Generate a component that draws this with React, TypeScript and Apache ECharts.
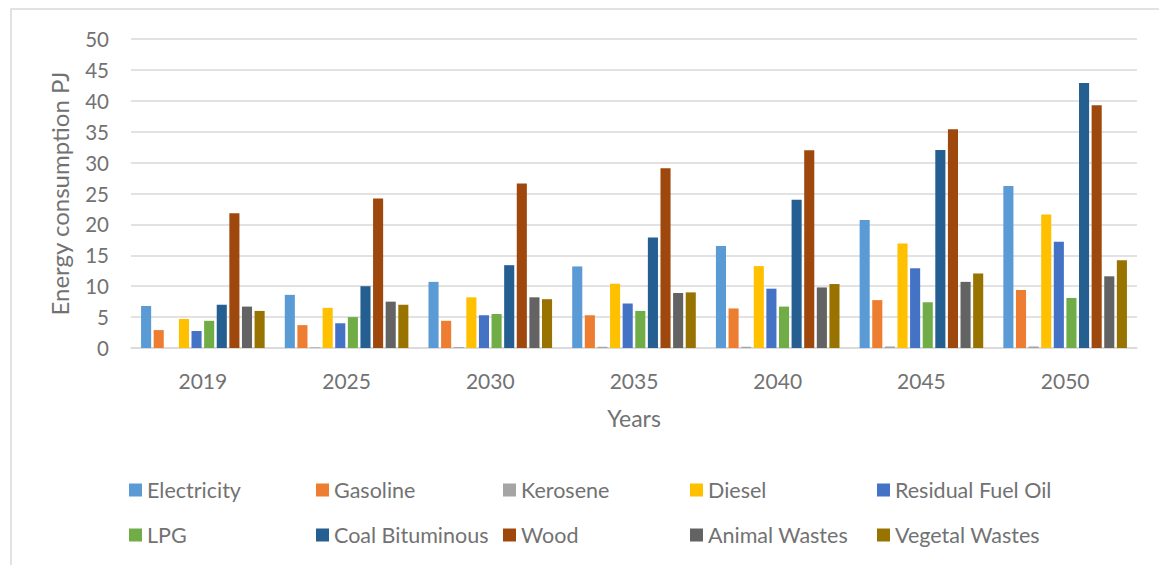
import React, { useEffect, useRef } from "react";
import * as echarts from "echarts";

const years = ["2019", "2025", "2030", "2035", "2040", "2045", "2050"];
const seriesNames = [
  "Electricity", "Gasoline", "Kerosene", "Diesel", "Residual Fuel Oil",
  "LPG", "Coal Bituminous", "Wood", "Animal Wastes", "Vegetal Wastes",
];
const electricity = [6.8, 8.6, 10.7, 13.2, 16.5, 20.7, 26.2];
const gasoline = [2.9, 3.7, 4.4, 5.3, 6.4, 7.75, 9.4];
const kerosene = [0, 0.1, 0.15, 0.2, 0.2, 0.25, 0.25];
const diesel = [4.7, 6.5, 8.2, 10.4, 13.25, 16.9, 21.6];
const residualFuelOil = [2.75, 4.0, 5.3, 7.2, 9.6, 12.9, 17.2];
const lpg = [4.4, 5.0, 5.5, 6.0, 6.7, 7.4, 8.1];
const coalBituminous = [7.0, 10.0, 13.4, 17.9, 24.0, 32.05, 42.9];
const wood = [21.8, 24.2, 26.6, 29.1, 32.0, 35.4, 39.3];
const animalWastes = [6.7, 7.5, 8.2, 8.9, 9.8, 10.7, 11.6];
const vegetalWastes = [6.0, 7.0, 7.9, 9.0, 10.35, 12.06, 14.2];
const yTicks = { min: 0, max: 50, interval: 5 };

const allValues = [
  electricity, gasoline, kerosene, diesel, residualFuelOil,
  lpg, coalBituminous, wood, animalWastes, vegetalWastes,
];
const colors = [
  "#5B9BD5", "#ED7D31", "#A5A5A5", "#FFC000", "#4472C4",
  "#70AD47", "#255E91", "#9E480E", "#636363", "#997300",
];

const FONT = "Lato";
const TEXT = "#727272";

export default function App() {
  const ref = useRef<HTMLDivElement>(null);
  useEffect(() => {
    if (!ref.current) return;
    const chart = echarts.init(ref.current, null, { renderer: "svg" });
    const legendCommon = {
      orient: "horizontal",
      itemWidth: 13,
      itemHeight: 13,
      itemGap: 0,
      padding: 0,
      icon: "rect",
      left: 129,
      width: 940,
      textStyle: {
        fontFamily: FONT,
        fontSize: 21.5,
        color: TEXT,
        width: 169,
        lineHeight: 24,
        overflow: "none",
      },
    };
    chart.setOption({
      animation: false,
      color: colors,
      graphic: [
        {
          type: "rect",
          shape: { x: 11, y: 9, width: 1170, height: 580 },
          style: { fill: "none", stroke: "#d9d9d9", lineWidth: 1.5 },
          silent: true,
        },
      ],
      legend: [
        { ...legendCommon, top: 478, data: seriesNames.slice(0, 5) },
        { ...legendCommon, top: 523, data: seriesNames.slice(5) },
      ],
      grid: { left: 131, right: 22, top: 39, bottom: 217 },
      xAxis: {
        type: "category",
        data: years,
        name: "Years",
        nameLocation: "middle",
        nameGap: 58,
        nameTextStyle: { fontFamily: FONT, fontSize: 23, color: TEXT },
        axisLine: { lineStyle: { color: "#d9d9d9", width: 1.5 } },
        axisTick: { show: false },
        axisLabel: { fontFamily: FONT, fontSize: 21, color: TEXT, margin: 22 },
      },
      yAxis: {
        type: "value",
        min: yTicks.min,
        max: yTicks.max,
        interval: yTicks.interval,
        name: "Energy consumption PJ",
        nameLocation: "middle",
        nameGap: 60,
        nameTextStyle: { fontFamily: FONT, fontSize: 24, color: TEXT },
        axisLine: { show: false },
        axisTick: { show: false },
        splitLine: { lineStyle: { color: "#d9d9d9", width: 1.5 } },
        axisLabel: { fontFamily: FONT, fontSize: 20.5, color: TEXT, margin: 22 },
      },
      series: seriesNames.map((name, i) => ({
        name,
        type: "bar",
        data: allValues[i],
        barGap: "25%",
        barCategoryGap: "14%",
        itemStyle: { color: colors[i] },
      })),
    });
    return () => chart.dispose();
  }, []);
  return (
    <div
      ref={ref}
      style={{ position: "fixed", left: 0, top: 0, width: 1159, height: 565, background: "#fff" }}
    />
  );
}
